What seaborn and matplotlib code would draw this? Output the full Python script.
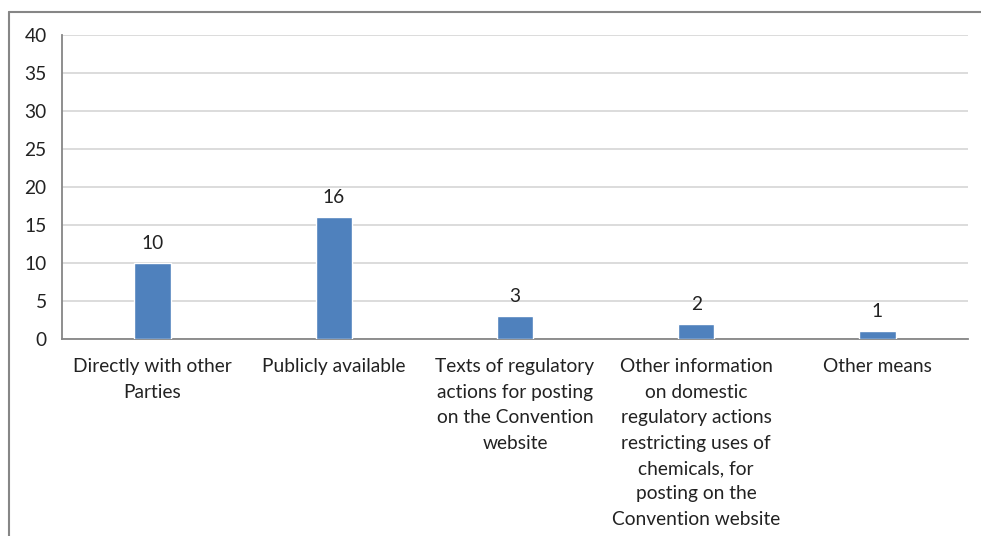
import numpy as np
import pandas as pd
import matplotlib
matplotlib.use("Agg")
import matplotlib.pyplot as plt
import seaborn as sns
from matplotlib.lines import Line2D

categories = [
    "Directly with other\nParties",
    "Publicly available",
    "Texts of regulatory\nactions for posting\non the Convention\nwebsite",
    "Other information\non domestic\nregulatory actions\nrestricting uses of\nchemicals, for\nposting on the\nConvention website",
    "Other means",
]
counts = [10, 16, 3, 2, 1]
y_ticks = [0, 5, 10, 15, 20, 25, 30, 35, 40]

df = pd.DataFrame({"category": categories, "count": counts})

sns.set_style("white")
plt.rcParams["font.family"] = ["Lato", "DejaVu Sans"]

W, H = 981, 536
fig = plt.figure(figsize=(W / 100, H / 100), dpi=100)
ax = fig.add_axes([62 / W, 1 - 339 / H, (968 - 62) / W, (339 - 35) / H])

sns.barplot(data=df, x="category", y="count", color="#4F81BD", width=0.2,
            saturation=1, ax=ax, zorder=3)

ax.set_xlim(-0.5, len(categories) - 0.5)
ax.set_ylim(0, 40)
ax.set_yticks(y_ticks)
ax.set_xlabel("")
ax.set_ylabel("")

fs = 13.8
axis_col = "#868686"
ax.grid(axis="y", color="#D9D9D9", linewidth=1.3, zorder=0)
ax.set_axisbelow(True)
for s in ["top", "right"]:
    ax.spines[s].set_visible(False)
for s in ["left", "bottom"]:
    ax.spines[s].set_color(axis_col)
    ax.spines[s].set_linewidth(1.3)

ax.tick_params(axis="y", which="major", direction="out", length=5, width=1.3,
               color=axis_col, labelsize=fs, pad=6, labelcolor="#222222")
ax.tick_params(axis="x", which="major", length=0, labelsize=fs, pad=14,
               labelcolor="#222222")
ax.set_xticks(np.arange(-0.5, len(categories)), minor=True)
ax.tick_params(axis="x", which="minor", direction="out", length=5, width=1.3,
               color=axis_col)
for lab in ax.get_xticklabels():
    lab.set_linespacing(1.6)
    lab.set_va("top")
    lab.set_ha("center")

for i, v in enumerate(counts):
    ax.annotate(str(v), (i, v), xytext=(0, 14), textcoords="offset points",
                ha="center", va="center", fontsize=fs, color="#222222")

# outer chart-area border (cut off on right and bottom)
fig.add_artist(Line2D([9 / W, 9 / W], [0, 1 - 12 / H], color=axis_col,
                      linewidth=1.5, transform=fig.transFigure))
fig.add_artist(Line2D([9 / W, 1], [1 - 12 / H, 1 - 12 / H], color=axis_col,
                      linewidth=1.5, transform=fig.transFigure))

fig.savefig("out.png", dpi=100)
